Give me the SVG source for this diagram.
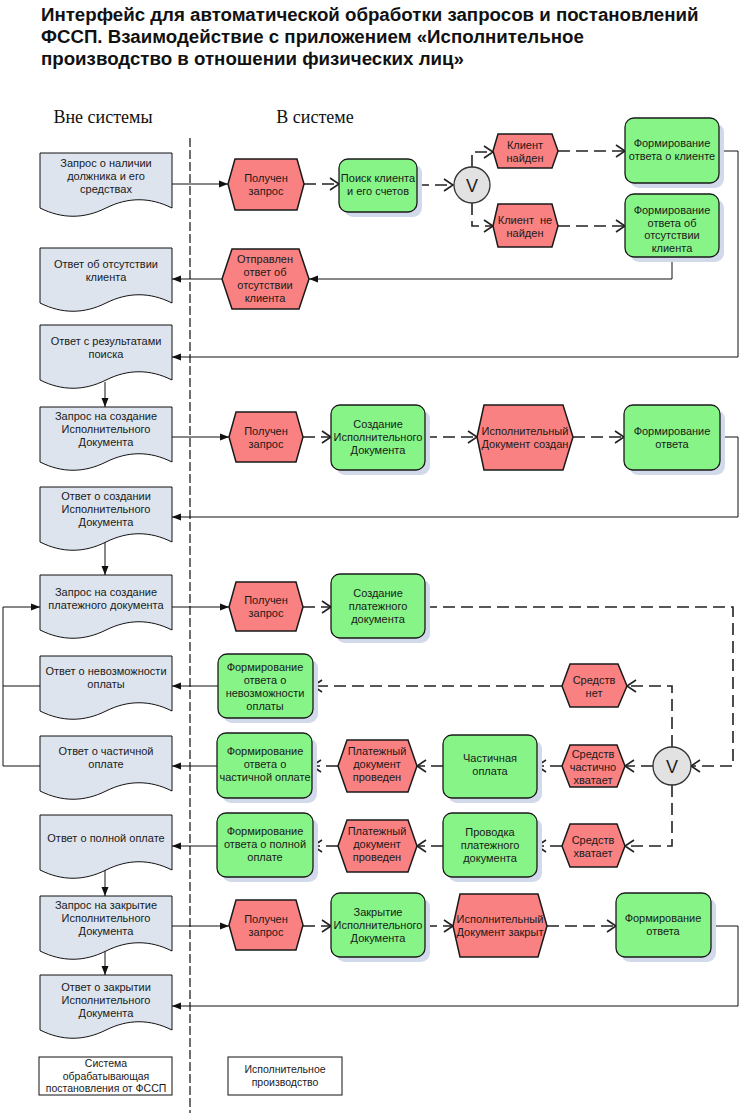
<svg xmlns="http://www.w3.org/2000/svg" width="740" height="1113" viewBox="0 0 740 1113">
<style>
.title{font-family:"Liberation Sans",Arial,sans-serif;font-size:18.7px;font-weight:bold;fill:#111}
.lane{font-family:"Liberation Serif","Times New Roman",serif;font-size:18px;fill:#111;text-anchor:middle}
.t{font-family:"Liberation Sans",Arial,sans-serif;font-size:11px;fill:#1a1a1a;text-anchor:middle}
.tl{font-family:"Liberation Sans",Arial,sans-serif;font-size:10.5px;fill:#1a1a1a;text-anchor:middle}
.doc{fill:#dde4ee;stroke:#111;stroke-width:1}
.ev{fill:#f98181;stroke:#1a1a1a;stroke-width:1.5}
.fn{fill:#86f486;stroke:#1a1a1a;stroke-width:1.3}
.sh{fill:#d2d9ea}
.op{fill:#e2e2e2;stroke:#333;stroke-width:1.3}
.leg{fill:#fff;stroke:#111;stroke-width:1}
.s{fill:none;stroke:#111;stroke-width:1}
.d{fill:none;stroke:#222;stroke-width:1.6;stroke-dasharray:12 6}
.div{fill:none;stroke:#111;stroke-width:1.2;stroke-dasharray:9 3}
</style>
<defs>
<marker id="af" markerUnits="userSpaceOnUse" markerWidth="10" markerHeight="8" refX="9" refY="4" orient="auto">
<path d="M0,0.5 L9,4 L0,7.5 z" fill="#111"/>
</marker>
<marker id="ao" markerUnits="userSpaceOnUse" markerWidth="12" markerHeight="14" refX="10" refY="7" orient="auto">
<path d="M1,1 L10,7 L1,13" fill="none" stroke="#222" stroke-width="1.6"/>
</marker>
</defs>

<g id="title">
<text class="title" x="41" y="21">Интерфейс для автоматической обработки запросов и постановлений</text>
<text class="title" x="41" y="43">ФССП. Взаимодействие с приложением «Исполнительное</text>
<text class="title" x="41" y="65">производство в отношении физических лиц»</text>
</g>

<g id="lanes">
<text class="lane" x="103" y="123">Вне системы</text>
<text class="lane" x="315" y="123">В системе</text>
<path class="div" d="M190,138 V1113"/>
</g>

<g id="connectors">
<path class="s" marker-end="url(#af)" d="M172,184 H228"/>
<path class="s" marker-end="url(#af)" d="M222,279 H172"/>
<path class="s" marker-end="url(#af)" d="M672,257 V279 H309"/>
<path class="s" marker-end="url(#af)" d="M719,151 H738 V357 H172"/>
<path class="s" marker-end="url(#af)" d="M105,382 V407"/>
<path class="s" marker-end="url(#af)" d="M172,437 H229"/>
<path class="s" marker-end="url(#af)" d="M720,437 H738 V517 H172"/>
<path class="s" marker-end="url(#af)" d="M105,542 V575"/>
<path class="s" marker-end="url(#af)" d="M172,607 H229"/>
<path class="s" marker-end="url(#af)" d="M218,686 H172"/>
<path class="s" marker-end="url(#af)" d="M217,766 H172"/>
<path class="s" marker-end="url(#af)" d="M217,846 H172"/>
<path class="s" marker-end="url(#af)" d="M172,926 H229"/>
<path class="s" marker-end="url(#af)" d="M711,926 H738 V1006 H172"/>
<path class="s" marker-end="url(#af)" d="M105,870 V896"/>
<path class="s" marker-end="url(#af)" d="M105,951 V975"/>
<path class="s" marker-end="url(#af)" d="M40,766 H3 V607 H40"/>
<path class="s" d="M40,686 H3"/>

<path class="d" marker-end="url(#ao)" d="M304,184 H339"/>
<path class="d" marker-end="url(#ao)" d="M417,185 H453"/>
<path class="d" marker-end="url(#ao)" d="M472,167 V152 H493"/>
<path class="d" marker-end="url(#ao)" d="M472,203 V226 H493"/>
<path class="d" marker-end="url(#ao)" d="M558,151 H625"/>
<path class="d" marker-end="url(#ao)" d="M558,226 H625"/>
<path class="d" marker-end="url(#ao)" d="M303,437 H331"/>
<path class="d" marker-end="url(#ao)" d="M425,437 H477"/>
<path class="d" marker-end="url(#ao)" d="M573,437 H624"/>
<path class="d" marker-end="url(#ao)" d="M303,607 H331"/>
<path class="d" marker-end="url(#ao)" d="M425,607 H733 V766 H691"/>
<path class="d" marker-end="url(#ao)" d="M672,747 V686 H627"/>
<path class="d" marker-end="url(#ao)" d="M562,686 H313"/>
<path class="d" marker-end="url(#ao)" d="M653,766 H625"/>
<path class="d" marker-end="url(#ao)" d="M562,766 H537"/>
<path class="d" marker-end="url(#ao)" d="M443,766 H417"/>
<path class="d" marker-end="url(#ao)" d="M338,766 H312"/>
<path class="d" marker-end="url(#ao)" d="M672,785 V846 H625"/>
<path class="d" marker-end="url(#ao)" d="M562,846 H537"/>
<path class="d" marker-end="url(#ao)" d="M443,846 H417"/>
<path class="d" marker-end="url(#ao)" d="M338,846 H313"/>
<path class="d" marker-end="url(#ao)" d="M303,926 H331"/>
<path class="d" marker-end="url(#ao)" d="M425,926 H453"/>
<path class="d" marker-end="url(#ao)" d="M547,926 H616"/>
</g>

<!-- Documents outside the system -->
<g id="doc1"><path class="doc" d="M40,153 H172 V208 C150,197 128,197 106,208 C84,219 62,219 40,208 Z"/>
<text class="t" x="106" y="167">Запрос о наличии</text><text class="t" x="106" y="180">должника и его</text><text class="t" x="106" y="193">средствах</text></g>
<g id="doc2"><path class="doc" d="M40,248 H172 V303 C150,292 128,292 106,303 C84,314 62,314 40,303 Z"/>
<text class="t" x="106" y="268">Ответ об отсутствии</text><text class="t" x="106" y="281">клиента</text></g>
<g id="doc3"><path class="doc" d="M40,325 H172 V380 C150,369 128,369 106,380 C84,391 62,391 40,380 Z"/>
<text class="t" x="106" y="345">Ответ с результатами</text><text class="t" x="106" y="358">поиска</text></g>
<g id="doc4"><path class="doc" d="M40,407 H172 V462 C150,451 128,451 106,462 C84,473 62,473 40,462 Z"/>
<text class="t" x="106" y="420">Запрос на создание</text><text class="t" x="106" y="433">Исполнительного</text><text class="t" x="106" y="446">Документа</text></g>
<g id="doc5"><path class="doc" d="M40,487 H172 V542 C150,531 128,531 106,542 C84,553 62,553 40,542 Z"/>
<text class="t" x="106" y="500">Ответ о создании</text><text class="t" x="106" y="513">Исполнительного</text><text class="t" x="106" y="526">Документа</text></g>
<g id="doc6"><path class="doc" d="M40,575 H172 V630 C150,619 128,619 106,630 C84,641 62,641 40,630 Z"/>
<text class="t" x="106" y="596">Запрос на создание</text><text class="t" x="106" y="609">платежного документа</text></g>
<g id="doc7"><path class="doc" d="M40,656 H172 V711 C150,700 128,700 106,711 C84,722 62,722 40,711 Z"/>
<text class="t" x="106" y="675">Ответ о невозможности</text><text class="t" x="106" y="688">оплаты</text></g>
<g id="doc8"><path class="doc" d="M40,736 H172 V791 C150,780 128,780 106,791 C84,802 62,802 40,791 Z"/>
<text class="t" x="106" y="755">Ответ о частичной</text><text class="t" x="106" y="768">оплате</text></g>
<g id="doc9"><path class="doc" d="M40,815 H172 V870 C150,859 128,859 106,870 C84,881 62,881 40,870 Z"/>
<text class="t" x="106" y="842">Ответ о полной оплате</text></g>
<g id="doc10"><path class="doc" d="M40,896 H172 V951 C150,940 128,940 106,951 C84,962 62,962 40,951 Z"/>
<text class="t" x="106" y="909">Запрос на закрытие</text><text class="t" x="106" y="922">Исполнительного</text><text class="t" x="106" y="935">Документа</text></g>
<g id="doc11"><path class="doc" d="M40,975 H172 V1030 C150,1019 128,1019 106,1030 C84,1041 62,1041 40,1030 Z"/>
<text class="t" x="106" y="991">Ответ о закрытии</text><text class="t" x="106" y="1004">Исполнительного</text><text class="t" x="106" y="1017">Документа</text></g>

<!-- Events -->
<g id="ev1"><polygon class="ev" points="228,184 235,159 297,159 304,184 297,210 235,210"/>
<text class="t" x="266" y="182">Получен</text><text class="t" x="266" y="195">запрос</text></g>
<g id="ev2"><polygon class="ev" points="493,151 498,134 552,134 558,151 552,168 498,168"/>
<text class="t" x="525" y="149">Клиент</text><text class="t" x="525" y="162">найден</text></g>
<g id="ev3"><polygon class="ev" points="493,226 498,204 552,204 558,226 552,247 498,247"/>
<text class="t" x="525" y="224" style="white-space:pre">Клиент  не</text><text class="t" x="525" y="237">найден</text></g>
<g id="ev4"><polygon class="ev" points="222,279 232,249 299,249 309,279 299,309 232,309"/>
<text class="t" x="265" y="263">Отправлен</text><text class="t" x="265" y="276">ответ об</text><text class="t" x="265" y="289">отсутствии</text><text class="t" x="265" y="302">клиента</text></g>
<g id="ev5"><polygon class="ev" points="229,437 236,412 296,412 303,437 296,462 236,462"/>
<text class="t" x="266" y="435">Получен</text><text class="t" x="266" y="448">запрос</text></g>
<g id="ev6"><polygon class="ev" points="477,437 484,405 563,405 573,437 563,470 484,470"/>
<text class="t" x="525" y="435">Исполнительный</text><text class="t" x="525" y="448">Документ создан</text></g>
<g id="ev7"><polygon class="ev" points="229,607 236,582 296,582 303,607 296,631 236,631"/>
<text class="t" x="266" y="604">Получен</text><text class="t" x="266" y="617">запрос</text></g>
<g id="ev8"><polygon class="ev" points="562,686 570,664 618,664 627,686 618,707 570,707"/>
<text class="t" x="594" y="684">Средств</text><text class="t" x="594" y="697">нет</text></g>
<g id="ev9"><polygon class="ev" points="562,766 570,745 617,745 625,766 617,787 570,787"/>
<text class="t" x="593" y="758">Средств</text><text class="t" x="593" y="771">частично</text><text class="t" x="593" y="784">хватает</text></g>
<g id="ev10"><polygon class="ev" points="338,766 347,740 408,740 417,766 408,792 347,792"/>
<text class="t" x="377" y="755">Платежный</text><text class="t" x="377" y="768">документ</text><text class="t" x="377" y="781">проведен</text></g>
<g id="ev11"><polygon class="ev" points="562,846 570,824 617,824 625,846 617,867 570,867"/>
<text class="t" x="593" y="844">Средств</text><text class="t" x="593" y="857">хватает</text></g>
<g id="ev12"><polygon class="ev" points="338,846 347,820 408,820 417,846 408,872 347,872"/>
<text class="t" x="377" y="835">Платежный</text><text class="t" x="377" y="848">документ</text><text class="t" x="377" y="861">проведен</text></g>
<g id="ev13"><polygon class="ev" points="229,925 236,900 296,900 303,925 296,950 236,950"/>
<text class="t" x="266" y="923">Получен</text><text class="t" x="266" y="936">запрос</text></g>
<g id="ev14"><polygon class="ev" points="453,926 460,894 538,894 547,926 538,957 460,957"/>
<text class="t" x="500" y="923">Исполнительный</text><text class="t" x="500" y="936">Документ закрыт</text></g>

<!-- Functions -->
<g id="fn1"><rect class="sh" x="344" y="164" width="78" height="53" rx="9"/><rect class="fn" x="339" y="159" width="78" height="53" rx="9"/>
<text class="t" x="378" y="182">Поиск клиента</text><text class="t" x="378" y="195">и его счетов</text></g>
<g id="fn2"><rect class="sh" x="630" y="123" width="94" height="65" rx="9"/><rect class="fn" x="625" y="118" width="94" height="65" rx="9"/>
<text class="t" x="672" y="147">Формирование</text><text class="t" x="672" y="160">ответа о клиенте</text></g>
<g id="fn3"><rect class="sh" x="630" y="199" width="94" height="63" rx="9"/><rect class="fn" x="625" y="194" width="94" height="63" rx="9"/>
<text class="t" x="672" y="214">Формирование</text><text class="t" x="672" y="227">ответа об</text><text class="t" x="672" y="239">отсутствии</text><text class="t" x="672" y="252">клиента</text></g>
<g id="fn4"><rect class="sh" x="336" y="410" width="94" height="65" rx="9"/><rect class="fn" x="331" y="405" width="94" height="65" rx="9"/>
<text class="t" x="378" y="428">Создание</text><text class="t" x="378" y="441">Исполнительного</text><text class="t" x="378" y="454">Документа</text></g>
<g id="fn5"><rect class="sh" x="629" y="410" width="96" height="65" rx="9"/><rect class="fn" x="624" y="405" width="96" height="65" rx="9"/>
<text class="t" x="672" y="435">Формирование</text><text class="t" x="672" y="448">ответа</text></g>
<g id="fn6"><rect class="sh" x="336" y="579" width="94" height="64" rx="9"/><rect class="fn" x="331" y="574" width="94" height="64" rx="9"/>
<text class="t" x="378" y="597">Создание</text><text class="t" x="378" y="610">платежного</text><text class="t" x="378" y="623">документа</text></g>
<g id="fn7"><rect class="sh" x="223" y="659" width="95" height="64" rx="9"/><rect class="fn" x="218" y="654" width="95" height="64" rx="9"/>
<text class="t" x="265" y="671">Формирование</text><text class="t" x="265" y="684">ответа о</text><text class="t" x="265" y="697">невозможности</text><text class="t" x="265" y="710">оплаты</text></g>
<g id="fn8"><rect class="sh" x="448" y="740" width="94" height="63" rx="9"/><rect class="fn" x="443" y="735" width="94" height="63" rx="9"/>
<text class="t" x="490" y="762">Частичная</text><text class="t" x="490" y="775">оплата</text></g>
<g id="fn9"><rect class="sh" x="222" y="738" width="95" height="65" rx="9"/><rect class="fn" x="217" y="733" width="95" height="65" rx="9"/>
<text class="t" x="265" y="755">Формирование</text><text class="t" x="265" y="768">ответа о</text><text class="t" x="265" y="781">частичной оплате</text></g>
<g id="fn10"><rect class="sh" x="448" y="818" width="94" height="64" rx="9"/><rect class="fn" x="443" y="813" width="94" height="64" rx="9"/>
<text class="t" x="490" y="836">Проводка</text><text class="t" x="490" y="849">платежного</text><text class="t" x="490" y="862">документа</text></g>
<g id="fn11"><rect class="sh" x="222" y="818" width="96" height="64" rx="9"/><rect class="fn" x="217" y="813" width="96" height="64" rx="9"/>
<text class="t" x="265" y="835">Формирование</text><text class="t" x="265" y="848">ответа о полной</text><text class="t" x="265" y="861">оплате</text></g>
<g id="fn12"><rect class="sh" x="336" y="898" width="94" height="64" rx="9"/><rect class="fn" x="331" y="893" width="94" height="64" rx="9"/>
<text class="t" x="378" y="916">Закрытие</text><text class="t" x="378" y="929">Исполнительного</text><text class="t" x="378" y="942">Документа</text></g>
<g id="fn13"><rect class="sh" x="621" y="898" width="95" height="64" rx="9"/><rect class="fn" x="616" y="893" width="95" height="64" rx="9"/>
<text class="t" x="663" y="922">Формирование</text><text class="t" x="663" y="935">ответа</text></g>

<!-- Operators -->
<g id="xor1"><circle class="op" cx="472" cy="185" r="18"/>
<text x="472" y="192" font-family="Liberation Sans, Arial, sans-serif" font-size="18" text-anchor="middle" fill="#222">V</text></g>
<g id="xor2"><circle class="op" cx="672" cy="766" r="19"/>
<text x="672" y="773" font-family="Liberation Sans, Arial, sans-serif" font-size="18" text-anchor="middle" fill="#222">V</text></g>

<!-- Legend -->
<g id="legend1"><rect class="leg" x="39" y="1057" width="133" height="38"/>
<text class="tl" x="106" y="1067">Система</text><text class="tl" x="106" y="1080">обрабатывающая</text><text class="tl" x="106" y="1092">постановления от ФССП</text></g>
<g id="legend2"><rect class="leg" x="228" y="1057" width="114" height="38"/>
<text class="tl" x="285" y="1073">Исполнительное</text><text class="tl" x="285" y="1086">производство</text></g>
</svg>
